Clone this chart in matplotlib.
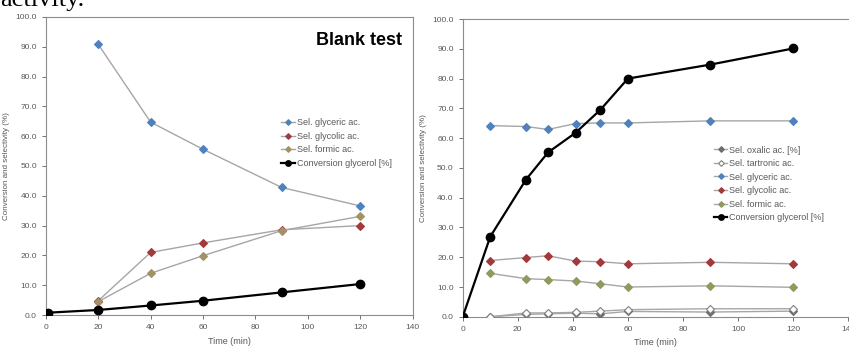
import matplotlib
matplotlib.use("Agg")
import matplotlib.pyplot as plt
from matplotlib.ticker import FormatStrFormatter, MultipleLocator

# left panel: blank test
t_blank = [20, 40, 60, 90, 120]
blank_glyceric = [90.8, 64.7, 55.6, 42.8, 36.6]
blank_glycolic = [4.8, 21.0, 24.2, 28.6, 30.0]
blank_formic = [4.5, 14.0, 19.9, 28.3, 33.1]
t_blank_conv = [1, 20, 40, 60, 90, 120]
blank_conv = [0.8, 1.7, 3.2, 4.8, 7.6, 10.4]

# right panel: catalysed run
t_cat = [0, 10, 23, 31, 41, 50, 60, 90, 120]
t_sel = [10, 23, 31, 41, 50, 60, 90, 120]
cat_oxalic = [0.0, 0.8, 1.0, 1.2, 1.0, 1.8, 1.6, 1.9]
cat_tartronic = [0.0, 1.3, 1.3, 1.5, 1.9, 2.4, 2.7, 2.7]
cat_glyceric = [64.2, 63.9, 62.9, 64.9, 65.1, 65.1, 65.8, 65.8]
cat_glycolic = [18.9, 19.9, 20.5, 18.7, 18.5, 17.8, 18.3, 17.8]
cat_formic = [14.6, 12.8, 12.5, 12.0, 11.1, 10.0, 10.4, 9.9]
cat_conv = [0.0, 26.9, 46.1, 55.2, 61.8, 69.5, 80.0, 84.7, 90.1]

BLUE = "#4F81BD"
RED = "#A23A3C"
OLIVE = "#8E9A5E"
KHAKI = "#A39267"
LINE = "#A6A6A6"
TICK = "#595959"

plt.rcParams["font.family"] = ["Liberation Sans", "DejaVu Sans"]

fig = plt.figure(figsize=(8.49, 3.52), dpi=100)
ax1 = fig.add_axes([0.054, 0.105, 0.432, 0.847])
ax2 = fig.add_axes([0.545, 0.100, 0.454, 0.846])

fig.text(0.0, 0.984, "activity.", family="Liberation Serif", fontsize=19,
         va="baseline", ha="left")


def sel(ax, x, y, color, label, face=None, ms=4.5):
    ax.plot(x, y, color=LINE, lw=1.0, marker="D", ms=ms,
            mfc=face or color, mec=color if face is None else "#7F7F7F",
            mew=0.8, label=label, zorder=3)


def conv(ax, x, y, label):
    ax.plot(x, y, color="black", lw=1.6, marker="o", ms=6,
            mfc="black", mec="black", label=label, zorder=4)


def style(ax):
    ax.set_xlim(0, 140)
    ax.set_ylim(0, 100)
    ax.xaxis.set_major_locator(MultipleLocator(20))
    ax.yaxis.set_major_locator(MultipleLocator(10))
    ax.yaxis.set_major_formatter(FormatStrFormatter("%.1f"))
    ax.tick_params(labelsize=6, colors=TICK, length=3, width=0.6)
    for s in ax.spines.values():
        s.set_color("#8C8C8C")
        s.set_linewidth(0.8)
    ax.set_xlabel("Time (min)", fontsize=6.5, color=TICK, labelpad=4)
    ax.set_ylabel("Conversion and selectivity (%)", fontsize=5.8, color=TICK,
                  labelpad=4)


def legend(ax, anchor):
    leg = ax.legend(loc="upper left", bbox_to_anchor=anchor, frameon=False,
                    fontsize=6.5, handlelength=1.5, handletextpad=0.2,
                    labelspacing=0.5, markerscale=0.65, borderpad=0)
    for txt in leg.get_texts():
        txt.set_color(TICK)


sel(ax1, t_blank, blank_glyceric, BLUE, "Sel. glyceric ac.")
sel(ax1, t_blank, blank_glycolic, RED, "Sel. glycolic ac.")
sel(ax1, t_blank, blank_formic, KHAKI, "Sel. formic ac.")
conv(ax1, t_blank_conv, blank_conv, "Conversion glycerol [%]")
style(ax1)
ax1.text(0.97, 0.922, "Blank test", transform=ax1.transAxes, ha="right",
         va="center", fontsize=13, fontweight="bold")
legend(ax1, (0.63, 0.675))

sel(ax2, t_sel, cat_oxalic, "#6E6E6E", "Sel. oxalic ac. [%]")
sel(ax2, t_sel, cat_tartronic, "#7F7F7F", "Sel. tartronic ac.", face="white")
sel(ax2, t_sel, cat_glyceric, BLUE, "Sel. glyceric ac.")
sel(ax2, t_sel, cat_glycolic, RED, "Sel. glycolic ac.")
sel(ax2, t_sel, cat_formic, OLIVE, "Sel. formic ac.")
conv(ax2, t_cat, cat_conv, "Conversion glycerol [%]")
style(ax2)
ax2.spines["right"].set_visible(False)
legend(ax2, (0.64, 0.59))

fig.savefig("out.png", dpi=100)
